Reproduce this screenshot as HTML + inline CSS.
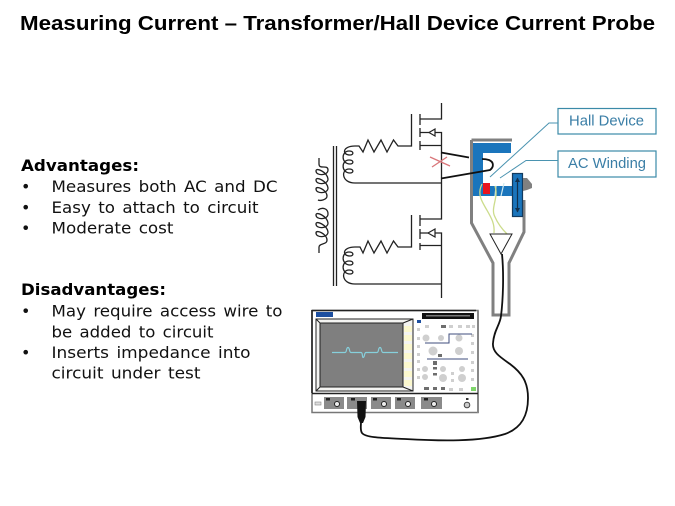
<!DOCTYPE html>
<html><head><meta charset="utf-8"><style>
html,body{margin:0;padding:0;background:#fff;width:675px;height:506px;overflow:hidden}
svg{display:block}
.b{font-family:"DejaVu Sans","Liberation Sans",sans-serif;font-size:16px;word-spacing:2px;fill:#111}
.h{font-family:"DejaVu Sans","Liberation Sans",sans-serif;font-size:16px;font-weight:bold;fill:#000}
.c{font-family:"Liberation Sans",sans-serif;font-size:15px;fill:#3a7ea6}
</style></head><body>
<svg width="675" height="506" viewBox="0 0 675 506" xmlns="http://www.w3.org/2000/svg">
<rect width="675" height="506" fill="#fff"/>
<text x="20" y="30" font-family="'Liberation Sans',sans-serif" font-weight="bold" font-size="20.500" fill="#000" textLength="635" lengthAdjust="spacingAndGlyphs">Measuring Current – Transformer/Hall Device Current Probe</text>

<text class="h" x="21" y="171" textLength="118" lengthAdjust="spacingAndGlyphs">Advantages:</text>
<g class="b">
<text x="21" y="192">•</text><text x="51.500" y="192" textLength="226" lengthAdjust="spacingAndGlyphs">Measures both AC and DC</text>
<text x="21" y="213">•</text><text x="51.500" y="213" textLength="207" lengthAdjust="spacingAndGlyphs">Easy to attach to circuit</text>
<text x="21" y="233.500">•</text><text x="51.500" y="233.500" textLength="122" lengthAdjust="spacingAndGlyphs">Moderate cost</text>
</g>
<text class="h" x="21" y="295" textLength="145" lengthAdjust="spacingAndGlyphs">Disadvantages:</text>
<g class="b">
<text x="21" y="316.500">•</text><text x="51.500" y="316.500" textLength="231" lengthAdjust="spacingAndGlyphs">May require access wire to</text>
<text x="51.500" y="337.500" textLength="162" lengthAdjust="spacingAndGlyphs">be added to circuit</text>
<text x="21" y="358">•</text><text x="51.500" y="358" textLength="199" lengthAdjust="spacingAndGlyphs">Inserts impedance into</text>
<text x="51.500" y="378.500" textLength="149" lengthAdjust="spacingAndGlyphs">circuit under test</text>
</g>

<!-- circuit -->
<g fill="none" stroke="#222" stroke-width="1.300">
<path d="M441.500 103V119H420M420 114V125M420 128V137M420 141V150M411.500 114V146H398L393.500 140L387 152L381 140L374 152L368 140L363 152L359 146H355"/>
<path d="M420 132.500H441.500V219H420M420 145.500H441.500M420 215V226M420 229V239M420 243V250M411.500 215V247H398L393.500 241L387 253L381 241L374 253L368 241L363 253L360 247H355"/>
<path d="M420 233H441.500V298M420 245.500H441.500"/>
<path d="M355 183H441.500M355 284H441.500"/>
<path d="M333.500 146V286M336.500 146V286"/>
<path d="M355 146C342 146 342 155 350 155C354 155 354 151 349 151C341 151 341 164 350 164C354 164 354 160 349 160C341 160 341 173 350 173C354 173 354 169 349 169C341 169 341 183 355 183"/>
<path d="M355 247C342 247 342 256 350 256C354 256 354 252 349 252C341 252 341 265 350 265C354 265 354 261 349 261C341 261 341 274 350 274C354 274 354 270 349 270C341 270 341 284 355 284"/>
<path d="M319 158V164C319 170 328 164 328 170C328 176 316 176 316 171C316 167 327 172 328 179C328 185 316 185 316 180C316 176 327 181 328 188C328 194 316 194 316 189C316 185 327 190 327 196C327 200 320 201 318 200"/>
<path d="M318 210C322 207 328 208 328 214C328 220 316 220 316 215C316 211 327 216 328 223C328 229 316 229 316 224C316 220 327 225 328 232C328 238 316 238 316 233C316 229 327 234 327 240C327 245 319 243 319 247V253"/>
</g>
<g fill="#fff" stroke="#222" stroke-width="1.200">
<polygon points="429,132.500 435,129 435,136"/>
<polygon points="428,233 435,229 435,237"/>
</g>
<path d="M430 157L450 166M432 167L447 157" stroke="#d9767a" stroke-width="1.300" fill="none"/>

<!-- probe -->
<path d="M471.500 140H512M471.500 140V223L493 263V315H509V263L524 232V200" fill="none" stroke="#808080" stroke-width="3"/>
<path d="M473 143H511V153H483V186H512V196H473Z" fill="#1a75bc"/>
<rect x="483" y="183" width="7" height="11" fill="#e8141c"/>
<path d="M496 186L495 196M504 183L501 196" stroke="#cfeaf0" stroke-width="1.200"/>
<rect x="512.500" y="173.500" width="10" height="43" fill="#1a75bc" stroke="#123a5e" stroke-width="1.200"/>
<path d="M517.500 178V212" stroke="#12304d" stroke-width="1.200"/>
<path d="M515 182L517.500 177.500L520 182ZM515 208L517.500 212.500L520 208Z" fill="#12304d"/>
<polygon points="523,178 527,178 532,184 532,188 527,190 523,191" fill="#808080"/>
<path d="M482 184C478 192 480 198 484 205C490 216 495 222 494 233M495 186C499 198 490 208 495 217C498 224 502 229 507 234" fill="none" stroke="#ccdc8c" stroke-width="1.300"/>
<polygon points="490,234 512,234 501,254" fill="#fff" stroke="#222" stroke-width="1"/>
<path d="M441 152.500L469 157.500M441 178.500L490 170C494 167 494 162 489 160C486 159 484 159 482 159" fill="none" stroke="#111" stroke-width="1.800"/>

<!-- callouts -->
<rect x="558" y="108.500" width="98" height="25.500" fill="#fff" stroke="#3b8aa8" stroke-width="1.200"/>
<rect x="558" y="151" width="98" height="26" fill="#fff" stroke="#3b8aa8" stroke-width="1.200"/>
<path d="M558 123H549L490 177M558 160.500H526L500 178" fill="none" stroke="#4a93b0" stroke-width="1"/>
<text class="c" x="569" y="125.500" textLength="75" lengthAdjust="spacingAndGlyphs">Hall Device</text>
<text class="c" x="568" y="168" textLength="78" lengthAdjust="spacingAndGlyphs">AC Winding</text>

<!-- scope -->
<rect x="312" y="310.500" width="166" height="102" fill="#fff" stroke="#777" stroke-width="1.500"/>
<path d="M312 310.500H476M312 310V393" stroke="#222" stroke-width="1.600" fill="none"/>
<rect x="477" y="311" width="2" height="102" fill="#888"/>
<path d="M312 393.500H478" stroke="#222" stroke-width="1.400"/>
<rect x="316" y="312" width="17" height="5" fill="#1d4fa0"/>
<rect x="422" y="313" width="52" height="6" fill="#111"/>
<rect x="426" y="315" width="44" height="1.500" fill="#777"/>
<rect x="316" y="319" width="97" height="72" fill="#f4f4f2" stroke="#222" stroke-width="1"/>
<rect x="320" y="323" width="83" height="64" fill="#7f7f7f" stroke="#222" stroke-width="1"/>
<path d="M316 319L320 323M316 391L320 387M413 319L403 323M413 391L403 387" stroke="#222"/>
<g fill="#fbf8cf"><rect x="404" y="326" width="8" height="6"/><rect x="404" y="335" width="8" height="6"/><rect x="404" y="344" width="8" height="6"/><rect x="404" y="353" width="8" height="6"/><rect x="404" y="362" width="8" height="6"/><rect x="404" y="371" width="8" height="6"/><rect x="404" y="380" width="8" height="6"/></g>
<path d="M332 352.500H345C347 352.500 346 347.500 348 347.500C350 347.500 349 352.500 351 352.500H361C363 352.500 362 357.500 363 357.500C365 357.500 364 352.500 366 352.500H377C379 352.500 378 347.500 380 347.500C382 347.500 381 352.500 383 352.500H398" fill="none" stroke="#86d0dc" stroke-width="1.200"/>
<rect x="417" y="320" width="4" height="3" fill="#1d4fa0"/>
<g fill="#cfcfcf">
<circle cx="426" cy="338" r="3.500"/><circle cx="441" cy="338" r="3"/><circle cx="459" cy="338" r="3.500"/><circle cx="433" cy="351" r="4.500"/><circle cx="459" cy="351" r="4"/>
<circle cx="425" cy="369" r="3"/><circle cx="443" cy="369" r="3"/><circle cx="462" cy="369" r="3"/><circle cx="425" cy="377" r="3"/><circle cx="443" cy="378" r="4"/><circle cx="462" cy="378" r="4"/>
<rect x="425" y="325" width="4" height="3"/><rect x="449" y="325" width="4" height="3"/><rect x="458" y="325" width="4" height="3"/><rect x="466" y="325" width="4" height="3"/><rect x="472" y="325" width="3" height="3"/>
<rect x="417" y="328" width="3" height="3"/><rect x="417" y="337" width="3" height="3"/><rect x="417" y="345" width="3" height="3"/><rect x="417" y="353" width="3" height="3"/><rect x="417" y="360" width="3" height="3"/><rect x="417" y="368" width="3" height="3"/><rect x="417" y="376" width="3" height="3"/>
<rect x="471" y="334" width="3" height="3"/><rect x="471" y="342" width="3" height="3"/><rect x="471" y="351" width="3" height="3"/><rect x="471" y="361" width="3" height="3"/><rect x="471" y="369" width="3" height="3"/><rect x="471" y="378" width="3" height="3"/>
<rect x="451" y="372" width="3" height="3"/><rect x="451" y="379" width="3" height="3"/><rect x="449" y="388" width="4" height="3"/><rect x="459" y="388" width="4" height="3"/>
</g>
<g fill="#6e6e6e"><rect x="441" y="325" width="5" height="3"/><rect x="438" y="354" width="4" height="3"/><rect x="433" y="361" width="4" height="4"/><rect x="433" y="367" width="4" height="2.500"/><rect x="433" y="373" width="4" height="2.500"/><rect x="424" y="387" width="5" height="3"/><rect x="433" y="387" width="4" height="3"/><rect x="441" y="387" width="4" height="3"/></g>
<path d="M425 343H449V334H472M427 359H468" fill="none" stroke="#3f4e7e" stroke-width="1"/>
<rect x="471" y="387" width="5" height="4" fill="#7fd66a"/>
<rect x="315" y="402" width="6" height="3" fill="#ddd" stroke="#888" stroke-width=".6"/>
<g fill="#8a8a8a"><rect x="324" y="397" width="20" height="12"/><rect x="347" y="397" width="20" height="12"/><rect x="371" y="397" width="20" height="12"/><rect x="395" y="397" width="20" height="12"/><rect x="421" y="397" width="21" height="12"/></g>
<g fill="#222"><rect x="326" y="398" width="4" height="2.500"/><rect x="351" y="398" width="4" height="2.500"/><rect x="373" y="398" width="4" height="2.500"/><rect x="397" y="398" width="4" height="2.500"/><rect x="424" y="398" width="4" height="2.500"/></g>
<g fill="#eee" stroke="#222" stroke-width="1"><circle cx="337" cy="404" r="2.500"/><circle cx="384" cy="404" r="2.500"/><circle cx="408" cy="404" r="2.500"/><circle cx="434" cy="404" r="2.500"/></g>
<rect x="466" y="398" width="2.500" height="2" fill="#333"/><circle cx="467" cy="405" r="2.800" fill="#ccc" stroke="#444" stroke-width="1"/>
<path d="M502 254C504 275 503 300 501 316C500 325 494 330 493 343C492 352 500 357 510 364C522 373 528 382 528 398C528 415 522 428 505 434C480 442 440 441 405 439C385 438 366 438 362 433C360 430 361 426 361 422" fill="none" stroke="#111" stroke-width="1.800"/>
<polygon points="357,401 366,401 365.500,417 363,423 360,423 357.500,417" fill="#111"/>
</svg>
</body></html>
